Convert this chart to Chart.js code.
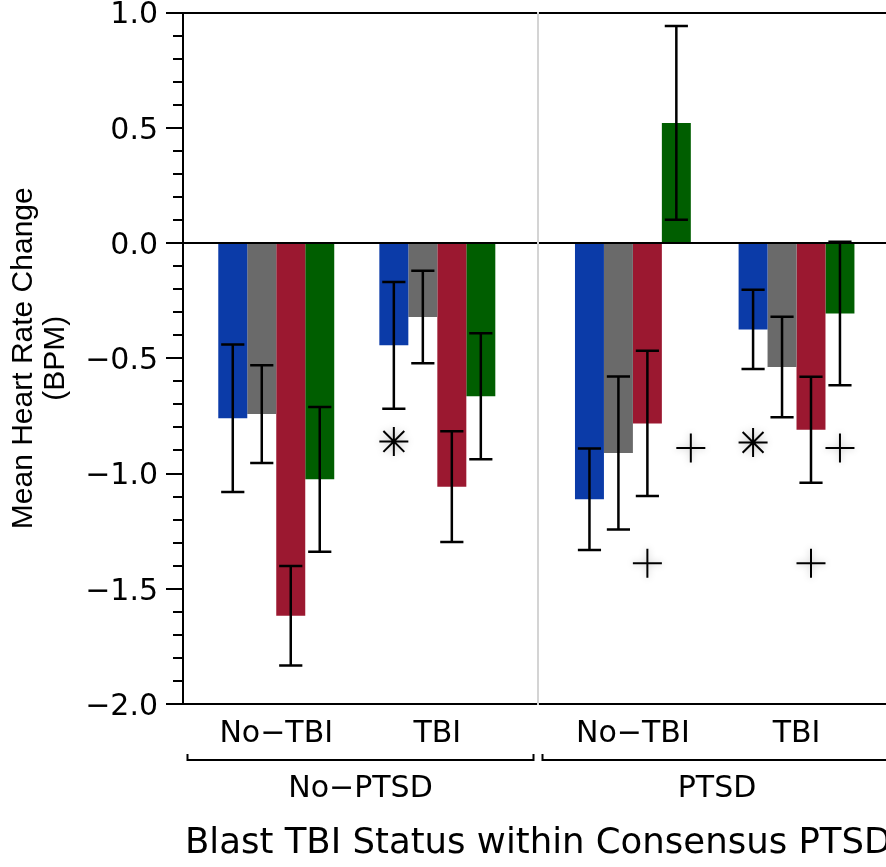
<!DOCTYPE html>
<html>
<head>
<meta charset="utf-8">
<script src="https://cdn.jsdelivr.net/npm/chart.js@4.4.1/dist/chart.umd.min.js"></script>
<style>
html, body { margin: 0; padding: 0; background: #fff; overflow: hidden; }
#wrap { position: relative; width: 886px; height: 867px; overflow: hidden; background: #fff; }
#left { position: absolute; left: 0; top: 0; }
#right { position: absolute; left: 528px; top: 0; }
</style>
</head>
<body>
<div id="wrap">
  <canvas id="left" width="886" height="867"></canvas>
  <canvas id="right" width="368" height="867"></canvas>
</div>
<script>
// categories and panels
var categories = ['No−TBI', 'TBI'];
var panelNames = ['No−PTSD', 'PTSD'];
var seriesNames = ['Blue', 'Gray', 'Red', 'Green'];
var yTicks = [-2.0, -1.5, -1.0, -0.5, 0.0, 0.5, 1.0];

// mean heart rate change, No-PTSD panel
var blueNoPtsd = [-0.76, -0.444];
var grayNoPtsd = [-0.742, -0.321];
var redNoPtsd = [-1.617, -1.057];
var greenNoPtsd = [-1.025, -0.665];
// error bar half lengths, No-PTSD panel
var blueErrNoPtsd = [0.32, 0.275];
var grayErrNoPtsd = [0.212, 0.201];
var redErrNoPtsd = [0.216, 0.24];
var greenErrNoPtsd = [0.314, 0.273];

// PTSD panel
var bluePtsd = [-1.112, -0.375];
var grayPtsd = [-0.911, -0.538];
var redPtsd = [-0.783, -0.81];
var greenPtsd = [0.521, -0.306];
var blueErrPtsd = [0.22, 0.172];
var grayErrPtsd = [0.332, 0.218];
var redErrPtsd = [0.315, 0.23];
var greenErrPtsd = [0.42, 0.311];

// significance marks: [category, series, value, symbol]
var marksNoPtsd = [[1, 0, -0.861, '*']];
var marksPtsd = [[0, 2, -1.389, '+'], [0, 3, -0.889, '+'], [1, 0, -0.865, '*'], [1, 2, -1.389, '+'], [1, 3, -0.889, '+']];
// sideways shift of each mark, in bar widths
var shiftNoPtsd = [0];
var shiftPtsd = [0, 0.5, 0, 0, 0];

var seriesColors = ['#0b3ba8', '#6a6a6a', '#9b1830', '#005e00'];
var tickFont = { family: '"DejaVu Sans", sans-serif', size: 30 };

function fmt(v) {
    return (v < 0 ? '−' : '') + Math.abs(v).toFixed(1);
}

function makeDatasets(means, errs, catPct) {
    return means.map(function (m, s) {
        return {
            label: seriesNames[s],
            data: m.map(function (v, i) { return { x: i, y: v }; }),
            err: errs[s],
            backgroundColor: seriesColors[s],
            borderWidth: 0,
            categoryPercentage: catPct,
            barPercentage: 1.0
        };
    });
}

var errorBars = {
    id: 'errorBars',
    afterDatasetsDraw: function (chart) {
        var ctx = chart.ctx, y = chart.scales.y;
        ctx.save();
        ctx.strokeStyle = '#000';
        ctx.lineWidth = 2.5;
        chart.data.datasets.forEach(function (ds, di) {
            chart.getDatasetMeta(di).data.forEach(function (bar, i) {
                var v = ds.data[i].y, e = ds.err[i];
                var top = y.getPixelForValue(v + e), bot = y.getPixelForValue(v - e);
                var half = bar.width * 0.4;
                ctx.beginPath();
                ctx.moveTo(bar.x, top); ctx.lineTo(bar.x, bot);
                ctx.moveTo(bar.x - half, top); ctx.lineTo(bar.x + half, top);
                ctx.moveTo(bar.x - half, bot); ctx.lineTo(bar.x + half, bot);
                ctx.stroke();
            });
        });
        ctx.restore();
    }
};

var marksPlugin = {
    id: 'marks',
    afterDatasetsDraw: function (chart, args, opts) {
        var ctx = chart.ctx, y = chart.scales.y;
        ctx.save();
        ctx.strokeStyle = '#000';
        ctx.lineWidth = 2;
        ctx.shadowColor = 'rgba(0,0,0,0.25)';
        ctx.shadowBlur = 7;
        opts.marks.forEach(function (mk, k) {
            var bar = chart.getDatasetMeta(mk[1]).data[mk[0]];
            var px = bar.x + opts.shift[k] * bar.width;
            var py = y.getPixelForValue(mk[2]);
            var r = 14.5;
            ctx.beginPath();
            ctx.moveTo(px - r, py); ctx.lineTo(px + r, py);
            ctx.moveTo(px, py - r); ctx.lineTo(px, py + r);
            if (mk[3] === '*') {
                var d = r * 0.72;
                ctx.moveTo(px - d, py - d); ctx.lineTo(px + d, py + d);
                ctx.moveTo(px - d, py + d); ctx.lineTo(px + d, py - d);
            }
            ctx.stroke();
        });
        ctx.restore();
    }
};

var decor = {
    id: 'decor',
    afterDraw: function (chart, args, opts) {
        var ctx = chart.ctx, a = chart.chartArea, y = chart.scales.y;
        ctx.save();
        ctx.strokeStyle = '#000';
        ctx.lineWidth = 2;
        // bracket under the panel
        var by = 760, l = a.left + 4.5, r = a.right - 4.5;
        ctx.beginPath();
        ctx.moveTo(l, by - 6); ctx.lineTo(l, by); ctx.lineTo(r, by); ctx.lineTo(r, by - 6);
        ctx.stroke();
        if (opts.minor) {
            ctx.beginPath();
            for (var i = -20; i <= 10; i++) {
                if (i % 5 === 0) continue;
                var py = Math.round(y.getPixelForValue(i / 10));
                ctx.moveTo(a.left - 10, py); ctx.lineTo(a.left, py);
            }
            ctx.stroke();
        }
        if (opts.title) {
            ctx.fillStyle = '#000';
            ctx.font = '35.5px "DejaVu Sans", sans-serif';
            ctx.textBaseline = 'alphabetic';
            ctx.textAlign = 'left';
            ctx.fillText(opts.title, 185, 853);
        }
        ctx.restore();
    }
};

function makeOptions(p) {
    return {
        responsive: false,
        animation: false,
        events: [],
        layout: { padding: p.padding },
        plugins: {
            legend: { display: false },
            tooltip: { enabled: false },
            marks: { marks: p.marks, shift: p.shift },
            decor: { minor: p.showY, title: p.title }
        },
        scales: {
            x: {
                type: 'linear',
                min: p.xMin,
                max: p.xMax,
                offset: false,
                afterBuildTicks: function (s) {
                    s.ticks = categories.map(function (c, i) { return { value: i }; });
                },
                afterFit: function (s) { s.height = 103; s.paddingLeft = 0; s.paddingRight = 0; },
                grid: { drawOnChartArea: false, drawTicks: false },
                border: { display: true, color: '#000', width: 2 },
                ticks: {
                    padding: 12, color: '#000', font: tickFont, autoSkip: false, maxRotation: 0,
                    callback: function (v) { return categories[v]; }
                },
                title: { display: true, text: p.name, color: '#000', font: tickFont, padding: 0 }
            },
            y: {
                min: -2,
                max: 1,
                z: 1,
                afterBuildTicks: function (s) {
                    s.ticks = yTicks.map(function (v) { return { value: v }; });
                },
                afterFit: function (s) { s.width = p.yWidth; s.paddingTop = 0; s.paddingBottom = 0; },
                grid: {
                    drawOnChartArea: true,
                    color: function (c) {
                        return (c.tick && (c.tick.value === 0 || c.tick.value === 1)) ? '#000' : 'rgba(0,0,0,0)';
                    },
                    lineWidth: 2,
                    drawTicks: p.showY,
                    tickLength: 17,
                    tickColor: '#000',
                    tickWidth: 2
                },
                border: { display: true, color: p.axisColor, width: 2 },
                ticks: {
                    display: p.showY, padding: 8, labelOffset: 3, color: '#000', font: tickFont,
                    callback: function (v) { return fmt(v); }
                },
                title: {
                    display: p.showY,
                    text: ['Mean Heart Rate Change', '(BPM)'],
                    color: '#000',
                    font: { family: '"Liberation Sans", Arial, sans-serif', size: 30, lineHeight: 1.05 },
                    padding: { top: 8, bottom: 0 }
                }
            }
        }
    };
}

var chartNoPtsd = new Chart(document.getElementById('left'), {
    type: 'bar',
    data: {
        datasets: makeDatasets(
            [blueNoPtsd, grayNoPtsd, redNoPtsd, greenNoPtsd],
            [blueErrNoPtsd, grayErrNoPtsd, redErrNoPtsd, greenErrNoPtsd], 0.72)
    },
    options: makeOptions({
        name: panelNames[0], xMin: -0.579, xMax: 1.625,
        padding: { left: 0, right: 348, top: 12.5, bottom: 60 },
        yWidth: 183, showY: true, axisColor: '#000',
        marks: marksNoPtsd, shift: shiftNoPtsd,
        title: 'Blast TBI Status within Consensus PTSD'
    }),
    plugins: [errorBars, marksPlugin, decor]
});

var chartPtsd = new Chart(document.getElementById('right'), {
    type: 'bar',
    data: {
        datasets: makeDatasets(
            [bluePtsd, grayPtsd, redPtsd, greenPtsd],
            [blueErrPtsd, grayErrPtsd, redErrPtsd, greenErrPtsd], 0.708)
    },
    options: makeOptions({
        name: panelNames[1], xMin: -0.58, xMax: 1.608,
        padding: { left: 10, right: 0, top: 12.5, bottom: 60 },
        yWidth: 0, showY: false, axisColor: '#d4d4d4',
        marks: marksPtsd, shift: shiftPtsd,
        title: null
    }),
    plugins: [errorBars, marksPlugin, decor]
});
</script>
</body>
</html>
